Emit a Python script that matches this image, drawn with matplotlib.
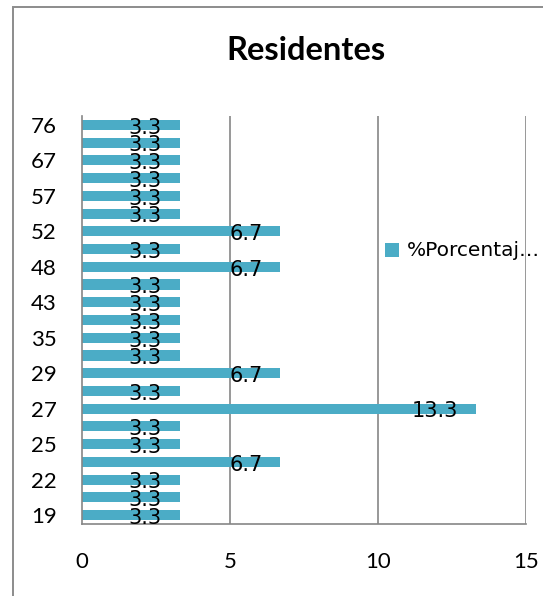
import matplotlib
matplotlib.use("Agg")
import matplotlib.pyplot as plt
from matplotlib.patches import Rectangle

# Ages (bottom to top) and share of residents in percent
ages = ["19", "20", "22", "23", "25", "26", "27", "28", "29", "30", "35", "40",
        "43", "45", "48", "50", "52", "55", "57", "60", "67", "70", "76"]
porcentaje = [3.3, 3.3, 3.3, 6.7, 3.3, 3.3, 13.3, 3.3, 6.7, 3.3, 3.3, 3.3,
              3.3, 3.3, 6.7, 3.3, 6.7, 3.3, 3.3, 3.3, 3.3, 3.3, 3.3]
x_ticks = [0, 5, 10, 15]
series_name = "%Porcentaj\u2026"
title = "Residentes"

bar_color = "#4BACC6"
grid_color = "#868686"
font = ["Lato", "DejaVu Sans"]

W, H = 543, 596
fig = plt.figure(figsize=(W / 100, H / 100), dpi=100)

# chart frame
fig.patches.append(Rectangle((13 / W, -0.1), 1.2, 1 - 7 / H + 0.1,
                             transform=fig.transFigure, fill=False,
                             edgecolor="#8c8c8c", linewidth=1.4))

ax = fig.add_axes([82 / W, 1 - 524 / H, (526 - 82) / W, (524 - 116) / H])
ypos = list(range(len(ages)))
ax.barh(ypos, porcentaje, height=0.57, color=bar_color, zorder=2)

ax.set_xlim(0, 15)
ax.set_ylim(-0.5, len(ages) - 0.5)
ax.set_xticks(x_ticks)
ax.set_xticklabels([str(t) for t in x_ticks], fontfamily=font, fontsize=16)
ax.set_yticks(ypos[::2])
ax.set_yticklabels(ages[::2], fontfamily=font, fontsize=16)
ax.tick_params(axis="x", length=0, pad=20)
ax.tick_params(axis="y", length=0, pad=18)

for x in x_ticks[1:]:
    ax.axvline(x, color=grid_color, linewidth=1.2, zorder=1)
for s in ("top", "right"):
    ax.spines[s].set_visible(False)
for s in ("left", "bottom"):
    ax.spines[s].set_color(grid_color)
    ax.spines[s].set_linewidth(1.2)

# value labels, right-aligned just inside the bar end
for y, v in zip(ypos, porcentaje):
    ax.annotate(f"{v}", xy=(v, y), xytext=(-13, -2), textcoords="offset points",
                ha="right", va="center", fontsize=15, fontfamily="DejaVu Sans",
                color="black", zorder=3)

fig.text(306 / W, 1 - 51 / H, title, ha="center", va="center",
         fontsize=23.5, fontweight="bold", fontfamily=font)

# legend entry
fig.patches.append(Rectangle((385 / W, 1 - 257 / H), 14 / W, 14 / H,
                             transform=fig.transFigure, facecolor=bar_color,
                             edgecolor="none", zorder=5))
fig.text(407 / W, 1 - 251 / H, series_name, ha="left", va="center",
         fontsize=14.5, fontfamily="DejaVu Sans", zorder=5)

fig.savefig("out.png", dpi=100)
